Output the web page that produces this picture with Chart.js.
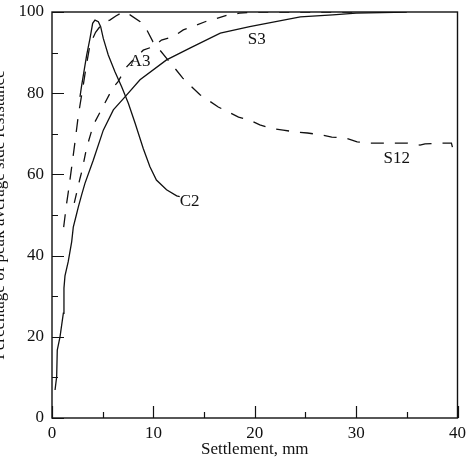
<!DOCTYPE html>
<html><head><meta charset="utf-8">
<script src="https://cdn.jsdelivr.net/npm/chart.js@4/dist/chart.umd.min.js"></script>
<style>
html,body{margin:0;padding:0;background:#fff;overflow:hidden;width:466px;height:464px;}
#wrap{position:absolute;left:-15px;top:0;width:481px;height:464px;}
canvas{display:block;}
</style></head><body>
<div id="wrap"><canvas id="c" width="481" height="464"></canvas></div>
<script>
// ---- data ----
const xTickValues = [0, 10, 20, 30, 40];
const xMinorTicks = [5, 15, 25, 35];
const yTickValues = [0, 20, 40, 60, 80, 100];
const yMinorTicks = [10, 30, 50, 70, 90];

const s3X = [0.3, 0.46, 0.52, 0.79, 1.12, 1.18, 1.28, 1.6, 1.94, 2.1, 2.4, 2.6, 2.93, 3.25, 4.07, 5.06, 6.05, 7.2, 8.68, 11.3, 13.6, 16.6, 19.5, 24.5, 27.7, 30, 35];
const s3Y = [6.9, 10.2, 16.7, 20, 25.8, 32, 35, 38.5, 43.4, 47, 50, 52, 55, 57.8, 63.5, 70.9, 75.9, 79.1, 83.3, 88.2, 91.1, 94.8, 96.4, 98.8, 99.3, 99.7, 100];

const c2X = [2.76, 2.93, 3.42, 3.75, 4.01, 4.24, 4.57, 4.8, 5.06, 5.55, 6.21, 6.87, 7.53, 8.2, 9.0, 9.66, 10.3, 11.3, 12.3, 12.6];
const c2Y = [79.1, 82, 89.4, 93.5, 97.2, 98, 97.6, 96.4, 93.5, 89.4, 85.3, 81.6, 77.5, 72.6, 66.4, 61.9, 58.6, 56.2, 54.7, 54.5];

const a3X = [2.2, 2.76, 2.93, 3.42, 4.08, 5.2, 6.0, 6.5, 7.37, 7.86, 9.0, 10.0, 10.8, 11.96, 12.95, 13.9, 15.1, 16.2, 17.4, 18.5, 20, 22, 30];
const a3Y = [53, 59, 60.6, 66.6, 72.2, 77.5, 81.3, 82.8, 86.5, 87.8, 90.6, 91.5, 93.1, 93.9, 95.6, 96.4, 97.6, 98.4, 99.3, 99.7, 100, 100, 100];

const s12X = [1.15, 1.45, 1.61, 1.94, 2.27, 2.6, 3.0, 3.4, 3.75, 4.3, 5.0, 5.7, 6.3, 7.0, 7.7, 8.7, 9.35, 9.95, 10.65, 11.6, 12.1, 12.9, 13.6, 14.6, 15.4, 16.4, 17.4, 18.4, 19.5, 20.5, 21.5, 22.8, 24.2, 25.2, 26.6, 27.6, 28.9, 30.1, 31.4, 32.5, 34.3, 35.1, 36.3, 36.8, 38.1, 39.4, 39.5];
const s12Y = [47, 53, 55.7, 61.8, 68, 74.6, 80.7, 87, 92, 95, 97.3, 98, 99, 100, 99.3, 97.6, 95.6, 92.7, 90.6, 87.7, 86.2, 83.7, 82, 79.6, 78.3, 76.6, 75.4, 74.1, 73.4, 72.2, 71.4, 70.9, 70.4, 70.2, 69.7, 69.2, 69, 68, 67.7, 67.7, 67.7, 67.7, 67.2, 67.5, 67.7, 67.7, 66.7];

const curveNames = ['C2', 'A3', 'S3', 'S12'];
const labelX = [12.6, 8.68, 20.2, 34.0];
const labelY = [53.4, 87.7, 93.1, 63.8];

// ---- chart ----
const F = "'Liberation Serif','Times New Roman',serif";
const INK = '#111';
const pts = (xs, ys) => xs.map((x, i) => ({x, y: ys[i]}));
const lineDs = (label, xs, ys, dash) => ({
  label, data: pts(xs, ys), borderColor: INK, borderWidth: 1.3,
  borderDash: dash, pointRadius: 0, fill: false, tension: 0
});

const frame = {
  id: 'frame',
  afterDatasetsDraw(chart) {
    const {ctx, chartArea: a, scales: {x, y}} = chart;
    ctx.save();
    ctx.strokeStyle = INK;
    ctx.lineWidth = 1.4;
    ctx.strokeRect(a.left, a.top, a.right - a.left, a.bottom - a.top);
    ctx.beginPath();
    const xt = (vals, len) => vals.forEach(v => {
      const p = Math.round(x.getPixelForValue(v)) + 0.5;
      ctx.moveTo(p, a.bottom); ctx.lineTo(p, a.bottom - len);
    });
    const yt = (vals, len) => vals.forEach(v => {
      const p = Math.round(y.getPixelForValue(v)) + 0.5;
      ctx.moveTo(a.left, p); ctx.lineTo(a.left + len, p);
    });
    xt(xTickValues, 12); xt(xMinorTicks, 6);
    yt(yTickValues, 12); yt(yMinorTicks, 6);
    ctx.lineWidth = 1.2;
    ctx.stroke();
    ctx.fillStyle = INK;
    ctx.font = '17px ' + F;
    ctx.textBaseline = 'middle';
    curveNames.forEach((n, i) => {
      ctx.textAlign = i === 0 ? 'left' : 'center';
      ctx.fillText(n, x.getPixelForValue(labelX[i]), y.getPixelForValue(labelY[i]));
    });
    ctx.restore();
  }
};

const noPad = s => { s.paddingTop = 0; s.paddingBottom = 0; s.paddingLeft = 0; s.paddingRight = 0; };

new Chart(document.getElementById('c'), {
  type: 'line',
  data: {
    datasets: [
      lineDs('S3', s3X, s3Y, []),
      lineDs('C2', c2X, c2Y, []),
      lineDs('A3', a3X, a3Y, [10, 11]),
      lineDs('S12', s12X, s12Y, [13, 11])
    ]
  },
  options: {
    responsive: false, animation: false, devicePixelRatio: 1,
    layout: {padding: {top: 12, right: 8.5, bottom: 0, left: 0}},
    plugins: {legend: {display: false}, tooltip: {enabled: false}},
    scales: {
      x: {
        type: 'linear', min: 0, max: 40,
        afterBuildTicks: s => { s.ticks = xTickValues.map(v => ({value: v})); },
        ticks: {color: INK, font: {family: F, size: 17}, padding: 5, maxRotation: 0, autoSkip: false},
        grid: {display: false, drawTicks: false, tickLength: 0}, border: {display: false},
        title: {display: true, text: 'Settlement, mm', color: INK, font: {family: F, size: 17}, padding: {top: 0, bottom: 4}},
        afterFit: s => { s.height = 46; noPad(s); }
      },
      y: {
        type: 'linear', min: 0, max: 100,
        afterBuildTicks: s => { s.ticks = yTickValues.map(v => ({value: v})); },
        ticks: {color: INK, font: {family: F, size: 17}, padding: 8, autoSkip: false},
        grid: {display: false, drawTicks: false, tickLength: 0}, border: {display: false},
        title: {display: true, text: 'Percentage of peak average side resistance', color: INK, font: {family: F, size: 17}, padding: {top: 4, bottom: 4}},
        afterFit: s => { s.width = 67; noPad(s); }
      }
    }
  },
  plugins: [frame]
});
</script>
</body></html>
